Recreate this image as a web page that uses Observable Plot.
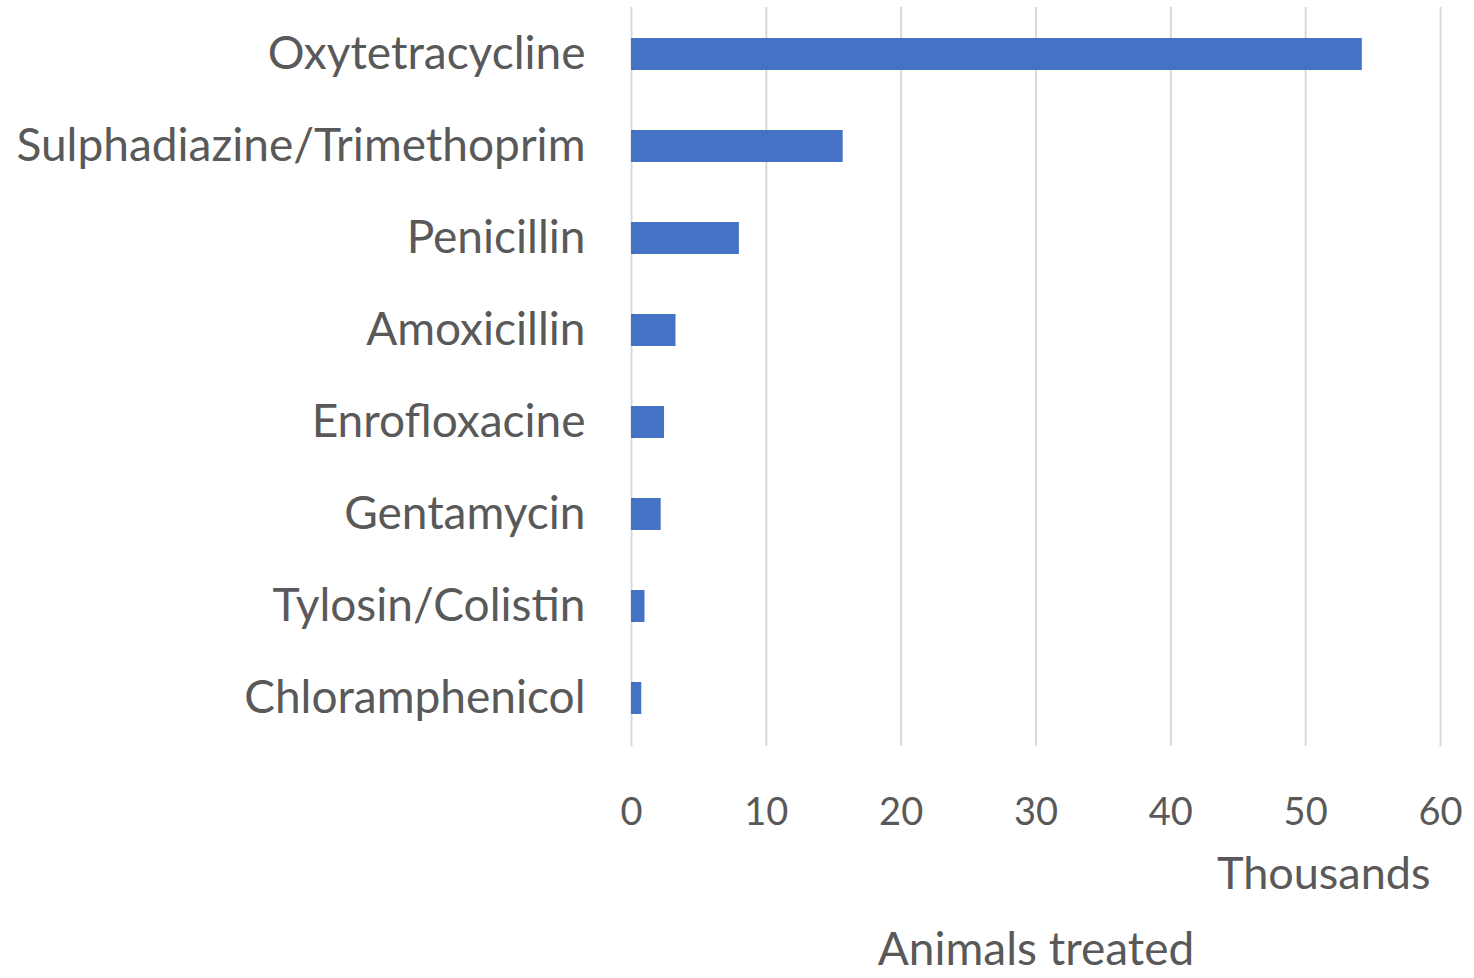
<!DOCTYPE html>
<html>
<head>
<meta charset="utf-8">
<script src="https://cdn.jsdelivr.net/npm/d3@7"></script>
<script src="https://cdn.jsdelivr.net/npm/@observablehq/plot@0.6"></script>
<style>
  html, body { margin: 0; padding: 0; background: #fff; }
  #chart svg { display: block; font-variant-numeric: oldstyle-nums; }
</style>
</head>
<body>
<div id="chart"></div>
<script>
const categories = [
  "Oxytetracycline",
  "Sulphadiazine/Trimethoprim",
  "Penicillin",
  "Amoxicillin",
  "Enrofloxacine",
  "Gentamycin",
  "Tylosin/Colistin",
  "Chloramphenicol"
];
const values = [54.2, 15.7, 8.0, 3.3, 2.45, 2.2, 1.0, 0.76]; // thousands
const xTicks = [0, 10, 20, 30, 40, 50, 60];
const unitLabel = ["Thousands"];
const axisTitle = ["Animals treated"];

const data = categories.map((c, i) => ({category: c, value: values[i]}));
const textColor = "#595959";
const font = "Lato, 'Open Sans', sans-serif";

const chart = Plot.plot({
  width: 1474,
  height: 978,
  marginLeft: 631,
  marginRight: 34,
  marginTop: 7,
  marginBottom: 232,
  style: {fontFamily: font, color: textColor, background: "#fff"},
  x: {domain: [0, 60], label: null},
  y: {domain: categories, paddingInner: 0.65, paddingOuter: 0.325, label: null},
  marks: [
    Plot.gridX(xTicks, {stroke: "#d9d9d9", strokeOpacity: 1, strokeWidth: 2}),
    Plot.barX(data, {x: "value", y: "category", fill: "#4472C4"}),
    Plot.axisX(xTicks, {tickSize: 0, tickPadding: 52, fontSize: 38, fill: textColor, tickFormat: d => String(d)}),
    Plot.axisY({tickSize: 0, tickPadding: 46, fontSize: 46, fill: textColor}),
    Plot.text(unitLabel, {frameAnchor: "bottom-right", textAnchor: "end", lineAnchor: "middle", dx: -10, dy: 128, fontSize: 45, fill: textColor}),
    Plot.text(axisTitle, {frameAnchor: "bottom", textAnchor: "middle", lineAnchor: "middle", dy: 204, fontSize: 46, fill: textColor})
  ]
});
document.getElementById("chart").appendChild(chart);
</script>
</body>
</html>
